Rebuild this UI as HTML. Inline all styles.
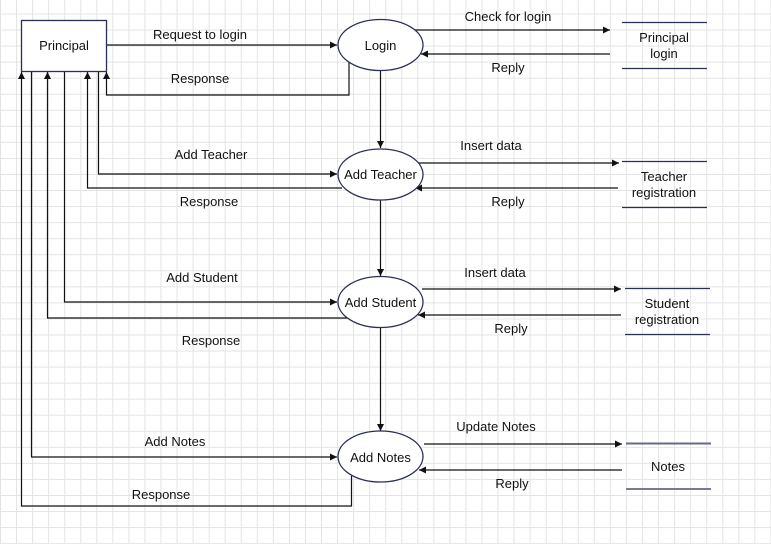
<!DOCTYPE html>
<html><head><meta charset="utf-8"><style>
html,body{margin:0;padding:0;background:#fff;}
svg{display:block;font-family:"Liberation Sans",Arial,sans-serif;}
</style></head><body>
<svg width="771" height="545" viewBox="0 0 771 545" xmlns="http://www.w3.org/2000/svg">
<defs>
<pattern id="g" x="0" y="13.5" width="16.05" height="16.05" patternUnits="userSpaceOnUse">
<path d="M0.5 0V16.05M0 0.5H16.05" stroke="#e4e4e4" stroke-width="1" fill="none"/>
</pattern>
<marker id="a" markerWidth="8" markerHeight="8" refX="7" refY="4" orient="auto" markerUnits="userSpaceOnUse">
<path d="M0,0.5 L7,4 L0,7.5 Z" fill="#111"/>
</marker>
</defs>
<rect x="0" y="0" width="771" height="544" fill="url(#g)"/>
<g stroke="#111" stroke-width="1.2" fill="none">
<!-- login -->
<line x1="106.5" y1="45" x2="337" y2="45" marker-end="url(#a)"/>
<polyline points="349,62 349,95 106.5,95 106.5,72" marker-end="url(#a)"/>
<!-- vertical -->
<line x1="380.5" y1="71" x2="380.5" y2="148" marker-end="url(#a)"/>
<line x1="380.5" y1="200" x2="380.5" y2="276" marker-end="url(#a)"/>
<line x1="380.5" y1="327" x2="380.5" y2="431" marker-end="url(#a)"/>
<!-- add teacher -->
<polyline points="98.5,71 98.5,174 337,174" marker-end="url(#a)"/>
<polyline points="342,188 87.5,188 87.5,72" marker-end="url(#a)"/>
<!-- add student -->
<polyline points="64.5,71 64.5,302 337,302" marker-end="url(#a)"/>
<polyline points="347,318 47.5,318 47.5,72" marker-end="url(#a)"/>
<!-- add notes -->
<polyline points="31.5,71 31.5,457 337,457" marker-end="url(#a)"/>
<polyline points="351.5,476 351.5,506 21.5,506 21.5,72" marker-end="url(#a)"/>
<!-- right side -->
<line x1="414" y1="30" x2="610" y2="30" marker-end="url(#a)"/>
<line x1="610" y1="54" x2="421" y2="54" marker-end="url(#a)"/>
<line x1="418" y1="163" x2="619" y2="163" marker-end="url(#a)"/>
<line x1="618" y1="188" x2="415" y2="188" marker-end="url(#a)"/>
<line x1="422" y1="289" x2="621" y2="289" marker-end="url(#a)"/>
<line x1="621" y1="315" x2="418" y2="315" marker-end="url(#a)"/>
<line x1="424" y1="444" x2="622" y2="444" marker-end="url(#a)"/>
<line x1="622" y1="470" x2="419" y2="470" marker-end="url(#a)"/>
</g>
<g stroke="#2a2f55" stroke-width="1.3" fill="#fff">
<rect x="21.5" y="20.5" width="85" height="51"/>
<ellipse cx="380.5" cy="45" rx="42.5" ry="25.5"/>
<ellipse cx="380.5" cy="174.5" rx="42.5" ry="25.5"/>
<ellipse cx="380.5" cy="302" rx="42.5" ry="25.5"/>
<ellipse cx="380.5" cy="456.5" rx="42.5" ry="25.5"/>
</g>
<g stroke="#2a2f55" stroke-width="1.3">
<line x1="622" y1="22.5" x2="707" y2="22.5"/><line x1="622" y1="68.5" x2="707" y2="68.5"/>
<line x1="622" y1="161.5" x2="707" y2="161.5"/><line x1="622" y1="207.5" x2="707" y2="207.5"/>
<line x1="625" y1="288.5" x2="710" y2="288.5"/><line x1="625" y1="334.5" x2="710" y2="334.5"/>
<line x1="626" y1="443.5" x2="711" y2="443.5" stroke="#666a85" stroke-width="2"/><line x1="626" y1="489" x2="711" y2="489" stroke="#777a92" stroke-width="2"/>
</g>
<g font-size="13" fill="#111" text-anchor="middle">
<text x="64" y="50">Principal</text>
<text x="380.5" y="50">Login</text>
<text x="380.5" y="179">Add Teacher</text>
<text x="380.5" y="307">Add Student</text>
<text x="380.5" y="462">Add Notes</text>
<text x="664" y="42">Principal</text><text x="664" y="58">login</text>
<text x="664" y="181">Teacher</text><text x="664" y="197">registration</text>
<text x="667" y="308">Student</text><text x="667" y="324">registration</text>
<text x="668" y="471">Notes</text>
<text x="200" y="39">Request to login</text>
<text x="200" y="83">Response</text>
<text x="508" y="21">Check for login</text>
<text x="508" y="72">Reply</text>
<text x="211" y="159">Add Teacher</text>
<text x="209" y="206">Response</text>
<text x="491" y="150">Insert data</text>
<text x="508" y="206">Reply</text>
<text x="202" y="282">Add Student</text>
<text x="211" y="345">Response</text>
<text x="495" y="277">Insert data</text>
<text x="511" y="333">Reply</text>
<text x="175" y="446">Add Notes</text>
<text x="161" y="499">Response</text>
<text x="496" y="431">Update Notes</text>
<text x="512" y="488">Reply</text>
</g>
</svg>
</body></html>
